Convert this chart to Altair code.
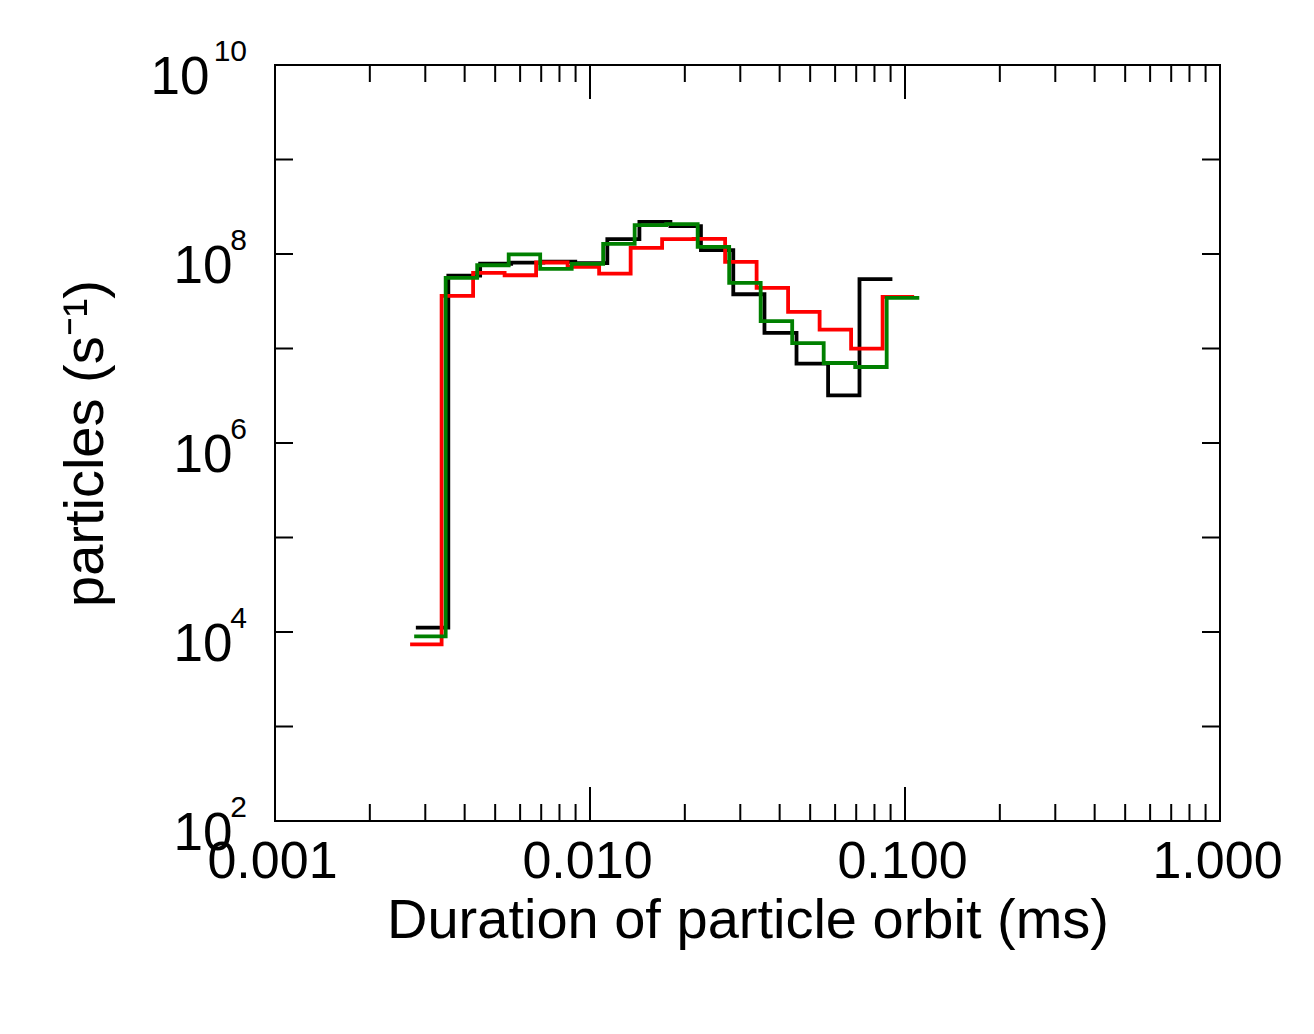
import altair as alt
import pandas as pd

# ---- data (bin edges in ms, counts in s^-1) ----
black_edges = [0.00280, 0.00355, 0.00448, 0.00562, 0.00711, 0.00898, 0.01135, 0.01435,
               0.0180, 0.0225, 0.0285, 0.0358, 0.04525, 0.0570, 0.0717, 0.0912]
black_vals = [1.11e4, 5.89e7, 7.89e7, 8.09e7, 8.28e7, 8.0e7, 1.435e8, 2.19e8,
              1.97e8, 1.10e8, 3.75e7, 1.46e7, 6.92e6, 3.19e6, 5.41e7]

red_edges = [0.002685, 0.00338, 0.004255, 0.005357, 0.006744, 0.00849, 0.01069, 0.01346,
             0.01694, 0.02133, 0.02685, 0.0338, 0.04255, 0.05357, 0.06744, 0.0849, 0.1069]
red_vals = [7.41e3, 3.60e7, 6.31e7, 5.96e7, 8.13e7, 7.29e7, 6.21e7, 1.16e8,
            1.435e8, 1.445e8, 8.24e7, 4.38e7, 2.44e7, 1.585e7, 9.98e6, 3.52e7]

green_edges = [0.002766, 0.003482, 0.004384, 0.005519, 0.006948, 0.008747, 0.01101, 0.01386,
               0.01745, 0.02197, 0.02766, 0.03482, 0.04384, 0.05519, 0.06948, 0.08747, 0.1110]
green_vals = [8.99e3, 5.58e7, 7.60e7, 9.89e7, 6.95e7, 7.85e7, 1.28e8, 2.02e8,
              2.07e8, 1.19e8, 4.94e7, 1.95e7, 1.14e7, 7.02e6, 6.37e6, 3.43e7]

x_major = [0.001, 0.01, 0.1, 1.0]
x_minor = [2e-3, 3e-3, 4e-3, 5e-3, 6e-3, 7e-3, 8e-3, 9e-3,
           2e-2, 3e-2, 4e-2, 5e-2, 6e-2, 7e-2, 8e-2, 9e-2,
           2e-1, 3e-1, 4e-1, 5e-1, 6e-1, 7e-1, 8e-1, 9e-1]
y_labels = [1e2, 1e4, 1e6, 1e8, 1e10]
y_exponents = ["2", "4", "6", "8", "10"]
y_ticks = [1e2, 1e3, 1e4, 1e5, 1e6, 1e7, 1e8, 1e9, 1e10]

W, H = 945, 756
FONT = "Liberation Sans"


def step_df(edges, vals):
    rows = [{"x": edges[i], "y": vals[i], "i": i} for i in range(len(vals))]
    rows.append({"x": edges[len(vals)], "y": vals[-1], "i": len(vals)})
    return pd.DataFrame(rows)


x_scale = alt.Scale(type="log", domain=[0.001, 1], nice=False)
y_scale = alt.Scale(type="log", domain=[1e2, 1e10], nice=False)

x_axis = alt.Axis(
    values=x_major, format=".3f", ticks=False, tickSize=0, domain=False, grid=False,
    labelFont=FONT, labelFontSize=52, labelColor="black", labelPadding=56,
    labelBaseline="alphabetic", labelFlush=False, labelOverlap=False, labelOffset=-3,
    title="Duration of particle orbit (ms)", titleFont=FONT, titleFontSize=56,
    titleFontWeight="normal", titleColor="black", titleBaseline="alphabetic",
    titleY=116, titleX=W / 2, titleAlign="center",
)
y_axis = alt.Axis(
    values=y_labels,
    labelExpr="'10'",
    ticks=False, tickSize=0, domain=False, grid=False,
    labelFont=FONT, labelFontSize=53, labelColor="black",
    labelPadding={"condition": {"test": "datum.value > 1e9", "value": 66}, "value": 43},
    labelBaseline="alphabetic", labelOffset=28, labelFlush=False, labelOverlap=False,
    title="particles (s⁻¹)", titleFont=FONT, titleFontSize=56, titleFontWeight="normal",
    titleColor="black", titleBaseline="alphabetic", titleX=-173, titleY=H / 2,
    titleAngle=270, titleAlign="center",
)


def line_layer(edges, vals, color):
    return alt.Chart(step_df(edges, vals)).mark_line(
        interpolate="step-after", color=color, strokeWidth=3.8
    ).encode(
        x=alt.X("x:Q", scale=x_scale, axis=x_axis),
        y=alt.Y("y:Q", scale=y_scale, axis=y_axis),
        order="i:Q",
    )


def xtick_layer(vals, length, top):
    df = pd.DataFrame({"x": vals})
    if top:
        yy, yy2 = alt.value(0), alt.value(length)
    else:
        yy, yy2 = alt.value(H), alt.value(H - length)
    return alt.Chart(df).mark_rule(color="black", strokeWidth=2).encode(
        x=alt.X("x:Q", scale=x_scale, axis=x_axis), y=yy, y2=yy2
    )


def ytick_layer(vals, length, right):
    df = pd.DataFrame({"y": vals})
    if right:
        xx, xx2 = alt.value(W - length), alt.value(W)
    else:
        xx, xx2 = alt.value(0), alt.value(length)
    return alt.Chart(df).mark_rule(color="black", strokeWidth=2).encode(
        y=alt.Y("y:Q", scale=y_scale, axis=y_axis), x=xx, x2=xx2
    )


exp_layer = alt.Chart(pd.DataFrame({"y": y_labels, "e": y_exponents})).mark_text(
    font=FONT, fontSize=30, color="black", align="right", baseline="alphabetic", dy=-4
).encode(
    y=alt.Y("y:Q", scale=y_scale, axis=y_axis),
    x=alt.value(-28),
    text="e:N",
)

chart = alt.layer(
    line_layer(black_edges, black_vals, "black"),
    line_layer(red_edges, red_vals, "#ff0000"),
    line_layer(green_edges, green_vals, "#008000"),
    xtick_layer(x_major, 34, False),
    xtick_layer(x_minor, 17, False),
    xtick_layer(x_major, 34, True),
    xtick_layer(x_minor, 17, True),
    ytick_layer(y_ticks, 18, False),
    ytick_layer(y_ticks, 18, True),
    exp_layer,
).properties(
    width=W, height=H,
    autosize=alt.AutoSizeParams(type="none"),
    padding={"left": 267, "top": 57, "right": 80, "bottom": 190},
    background="white",
).configure_view(stroke="black", strokeWidth=2)

chart.save("out.html", embed_options={"renderer": "svg", "actions": False})
